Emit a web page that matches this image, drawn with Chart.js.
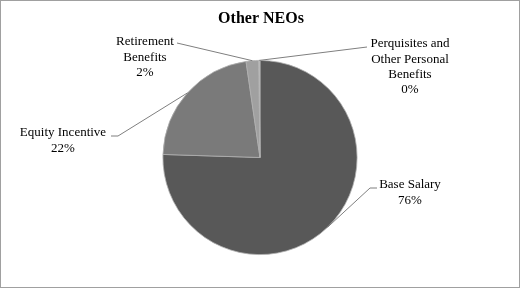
<!DOCTYPE html>
<html><head><meta charset="utf-8">
<script src="https://cdn.jsdelivr.net/npm/chart.js@4/dist/chart.umd.min.js"></script>
<style>html,body{margin:0;padding:0;background:#fff}#wrap{width:522px;height:289px;position:relative}</style>
</head><body><div id="wrap"><canvas id="c" width="522" height="289"></canvas></div>
<script>
const title = "Other NEOs";
const categories = ["Base Salary", "Equity Incentive", "Retirement Benefits", "Perquisites and Other Personal Benefits"];
const labelLines = [["Base Salary"], ["Equity Incentive"], ["Retirement", "Benefits"], ["Perquisites and", "Other Personal", "Benefits"]];
const values = [75.5, 22.2, 2.1, 0.2];
const percentLabels = ["76%", "22%", "2%", "0%"];
const colors = ["#585858", "#7a7a7a", "#a0a0a0", "#c4c4c4"];
// label anchor placement (layout only): text center x, first line y, leader end point
const labelLayout = [
  {x: 410, y: 185, ex: 377, ey: 188, elbow: 370},
  {x: 63, y: 133, ex: 111, ey: 136, elbow: 118},
  {x: 145, y: 42, ex: 177, ey: 43, elbow: null},
  {x: 410, y: 44, ex: 367, ey: 47, elbow: null}
];
const FONT = '"Liberation Serif", "Times New Roman", serif';

const labelPlugin = {
  id: 'pieLabels',
  afterDraw(chart) {
    const ctx = chart.ctx;
    const meta = chart.getDatasetMeta(0);
    ctx.save();
    ctx.strokeStyle = '#a0a0a0';
    ctx.lineWidth = 1;
    ctx.strokeRect(0.5, 0.5, 519, 287);
    ctx.fillStyle = '#000';
    ctx.font = 'bold 16px ' + FONT;
    ctx.textAlign = 'center';
    ctx.textBaseline = 'middle';
    ctx.fillText(title, 261, 19);
    meta.data.forEach((arc, i) => {
      const p = arc.getProps(['x', 'y', 'startAngle', 'endAngle', 'outerRadius'], true);
      const mid = (p.startAngle + p.endAngle) / 2;
      const sx = p.x + Math.cos(mid) * p.outerRadius;
      const sy = p.y + Math.sin(mid) * p.outerRadius;
      const L = labelLayout[i];
      ctx.strokeStyle = '#7f7f7f';
      ctx.lineWidth = 1;
      ctx.beginPath();
      ctx.moveTo(sx, sy);
      if (L.elbow !== null) { ctx.lineTo(L.elbow, L.ey); }
      ctx.lineTo(L.ex, L.ey);
      ctx.stroke();
      ctx.fillStyle = '#000';
      ctx.font = '13px ' + FONT;
      ctx.textAlign = 'center';
      ctx.textBaseline = 'middle';
      const lines = labelLines[i].concat([percentLabels[i]]);
      lines.forEach((t, k) => ctx.fillText(t, L.x, L.y + k * 15.3));
    });
    ctx.restore();
  }
};

new Chart(document.getElementById('c'), {
  type: 'pie',
  data: {
    labels: categories,
    datasets: [{
      data: values,
      backgroundColor: colors,
      borderColor: '#b0b0b0',
      borderWidth: 0.8
    }]
  },
  options: {
    responsive: false,
    animation: false,
    layout: {padding: {top: 60, bottom: 34, left: 0, right: 2}},
    plugins: {legend: {display: false}, title: {display: false}, tooltip: {enabled: false}}
  },
  plugins: [labelPlugin]
});
</script>
</body></html>
